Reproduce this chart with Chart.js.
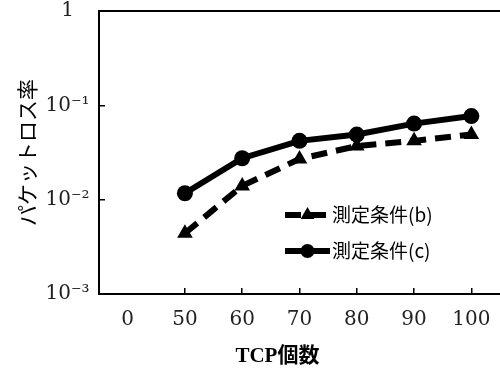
<!DOCTYPE html>
<html>
<head>
<meta charset="utf-8">
<script src="https://cdn.jsdelivr.net/npm/chart.js@4/dist/chart.umd.min.js"></script>
<style>
  html, body { margin: 0; padding: 0; background: #fff; }
  #wrap { width: 500px; height: 372px; }
</style>
</head>
<body>
<div id="wrap"><canvas id="chart"></canvas></div>
<script>
// データ
const categories = ['0', '50', '60', '70', '80', '90', '100'];
const lossB = [null, 0.0044, 0.0140, 0.027, 0.037, 0.042, 0.049];
const lossC = [null, 0.0117, 0.0275, 0.042, 0.049, 0.064, 0.077];
const yTicks = [0.001, 0.01, 0.1, 1];
const yTickLabels = ['10⁻³', '10⁻²', '10⁻¹', '1'];
const seriesNames = ['測定条件(b)', '測定条件(c)'];
const xTitle = 'TCP個数';
const yTitle = 'パケットロス率';

const tickFont = { family: "'DejaVu Serif', serif", size: 20 };

// 上枠・x軸タイトル・凡例
const framePlugin = {
  id: 'frame',
  afterDraw(chart) {
    const { ctx, chartArea } = chart;
    ctx.save();
    ctx.strokeStyle = '#000';
    ctx.lineWidth = 2;
    ctx.beginPath();
    ctx.moveTo(chartArea.left, chartArea.top);
    ctx.lineTo(chartArea.right, chartArea.top);
    ctx.stroke();

    ctx.fillStyle = '#000';
    ctx.textAlign = 'center';
    ctx.textBaseline = 'middle';
    ctx.font = "bold 21px 'Liberation Serif', 'Noto Sans CJK JP', serif";
    ctx.fillText(xTitle, chartArea.left + (chartArea.right - chartArea.left) * 0.445, 357);

    // 凡例
    const lx = 285, lw = 45;
    chart.data.datasets.forEach((ds, i) => {
      const y = 215 + i * 36;
      ctx.strokeStyle = '#000';
      ctx.lineWidth = ds.borderWidth;
      ctx.setLineDash(ds.borderDash || []);
      ctx.beginPath();
      ctx.moveTo(lx, y);
      ctx.lineTo(lx + lw, y);
      ctx.stroke();
      ctx.setLineDash([]);
      ctx.fillStyle = '#000';
      Chart.helpers.drawPoint(ctx, {
        pointStyle: ds.pointStyle, radius: ds.pointRadius - 1, rotation: 0, borderWidth: 0
      }, lx + lw / 2, y);
      ctx.fillStyle = '#000';
      ctx.font = "19px 'Noto Sans CJK JP', sans-serif";
      ctx.textAlign = 'left';
      ctx.textBaseline = 'middle';
      ctx.fillText(ds.label, lx + lw + 2, y);
    });
    ctx.restore();
  }
};

const noPad = (s) => {
  s.paddingTop = 0; s.paddingBottom = 0; s.paddingLeft = 0; s.paddingRight = 0;
};

new Chart(document.getElementById('chart'), {
  type: 'line',
  data: {
    labels: categories,
    datasets: [
      {
        label: seriesNames[0],
        data: lossB,
        borderColor: '#000',
        backgroundColor: '#000',
        borderWidth: 6,
        borderDash: [16, 9],
        pointStyle: 'triangle',
        pointRadius: 9,
        pointBorderWidth: 0,
        order: 1
      },
      {
        label: seriesNames[1],
        data: lossC,
        borderColor: '#000',
        backgroundColor: '#000',
        borderWidth: 6,
        pointStyle: 'circle',
        pointRadius: 8,
        pointBorderWidth: 0,
        order: 0
      }
    ]
  },
  options: {
    responsive: true,
    maintainAspectRatio: false,
    devicePixelRatio: 1,
    animation: false,
    layout: { autoPadding: false, padding: { top: 11, left: 0, right: 0, bottom: 0 } },
    plugins: {
      legend: { display: false },
      tooltip: { enabled: false }
    },
    scales: {
      x: {
        type: 'category',
        offset: true,
        border: { color: '#000', width: 2 },
        grid: {
          drawOnChartArea: false,
          tickLength: -6,
          lineWidth: 1.5,
          color: (c) => (c.index === 0 ? 'rgba(0,0,0,0)' : '#000')
        },
        ticks: { font: tickFont, color: '#222', padding: 20, maxRotation: 0, autoSkip: false },
        afterFit: (s) => { s.height = 78; noPad(s); }
      },
      y: {
        type: 'logarithmic',
        min: 0.001,
        max: 1,
        border: { color: '#000', width: 2 },
        grid: { drawOnChartArea: false, tickLength: -6, lineWidth: 1.5, color: '#000' },
        afterBuildTicks: (s) => { s.ticks = yTicks.map((v) => ({ value: v })); },
        ticks: {
          font: tickFont,
          color: '#222',
          padding: 15.5,
          crossAlign: 'center',
          callback: (v, i) => yTickLabels[i]
        },
        title: {
          display: true,
          text: yTitle,
          color: '#000',
          font: { family: "'Noto Sans CJK JP', sans-serif", size: 21 },
          padding: { top: 14, bottom: 0 }
        },
        afterFit: (s) => { s.width = 99; noPad(s); }
      }
    }
  },
  plugins: [framePlugin]
});
</script>
</body>
</html>
